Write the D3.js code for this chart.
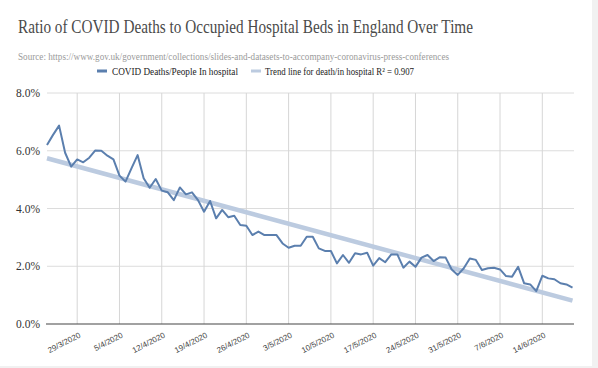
<!DOCTYPE html>
<html>
<head>
<meta charset="utf-8">
<script src="https://cdn.jsdelivr.net/npm/d3@7"></script>
<style>
  html, body { margin: 0; padding: 0; background: #fff; }
  svg { display: block; }
</style>
</head>
<body>
<svg id="chart" width="598" height="368"></svg>
<script>
// ---- data ----
const title = "Ratio of COVID Deaths to Occupied Hospital Beds in England Over Time";
const subtitle = "Source: https://www.gov.uk/government/collections/slides-and-datasets-to-accompany-coronavirus-press-conferences";
const seriesNames = ["COVID Deaths/People In hospital", "Trend line for death/in hospital R\u00B2 = 0.907"];
const startDate = "2020-03-24";
const endDate = "2020-06-19";
// daily ratio values (%)
const ratioValues = [
  6.20, 6.55, 6.87, 5.93, 5.45, 5.70, 5.60, 5.76, 6.01, 6.00,
  5.83, 5.70, 5.14, 4.93, 5.40, 5.85, 5.05, 4.72, 5.02, 4.62,
  4.56, 4.29, 4.73, 4.49, 4.56, 4.29, 3.89, 4.26, 3.66, 3.95,
  3.70, 3.75, 3.43, 3.40, 3.08, 3.20, 3.08, 3.08, 3.08, 2.79,
  2.64, 2.71, 2.71, 3.02, 3.02, 2.62, 2.53, 2.53, 2.10, 2.39,
  2.12, 2.45, 2.41, 2.47, 2.02, 2.28, 2.14, 2.41, 2.41, 1.95,
  2.16, 1.98, 2.30, 2.39, 2.18, 2.31, 2.30, 1.89, 1.70, 1.93,
  2.27, 2.22, 1.87, 1.93, 1.95, 1.89, 1.66, 1.64, 1.98, 1.41,
  1.37, 1.14, 1.67, 1.58, 1.55, 1.41, 1.37, 1.26
];
// trend line end values (%)
const trendValues = [5.74, 0.81];
const yTicks = [0, 2, 4, 6, 8];

// ---- layout ----
const svg = d3.select("#chart");
const W = 598, H = 368;
const plot = { left: 47, right: 572.5, top: 93, bottom: 324 };

svg.append("rect").attr("width", W).attr("height", H).attr("fill", "#f1f1f1");
svg.append("rect").attr("width", 592).attr("height", 366).attr("fill", "#ffffff");

const parse = d3.utcParse("%Y-%m-%d");
const d0 = parse(startDate), d1 = parse(endDate);
const dates = d3.utcDay.range(d0, d3.utcDay.offset(d1, 1));
const data = dates.map((d, i) => ({ date: d, v: ratioValues[i] }));

const x = d3.scaleUtc().domain([d0, d1]).range([plot.left, plot.right]);
const y = d3.scaleLinear().domain([0, 8]).range([plot.bottom, plot.top]);

const serif = "'Liberation Serif', 'Times New Roman', serif";

// title
svg.append("text").attr("x", 18).attr("y", 33)
  .attr("font-family", serif).attr("font-size", 18.5).attr("fill", "#4a4a4a")
  .attr("textLength", 455).attr("lengthAdjust", "spacingAndGlyphs")
  .text(title);
svg.append("text").attr("x", 18).attr("y", 60)
  .attr("font-family", serif).attr("font-size", 10.5).attr("fill", "#9a9a9a")
  .attr("textLength", 431).attr("lengthAdjust", "spacingAndGlyphs")
  .text(subtitle);

// legend
const legend = svg.append("g").attr("font-family", serif).attr("font-size", 11).attr("fill", "#222");
legend.append("rect").attr("x", 97).attr("y", 69.5).attr("width", 10).attr("height", 3).attr("fill", "#5b7fae");
legend.append("text").attr("x", 112).attr("y", 75)
  .attr("textLength", 126).attr("lengthAdjust", "spacingAndGlyphs").text(seriesNames[0]);
legend.append("rect").attr("x", 251).attr("y", 69.5).attr("width", 10).attr("height", 3).attr("fill", "#bccbe0");
legend.append("text").attr("x", 265).attr("y", 75)
  .attr("textLength", 149).attr("lengthAdjust", "spacingAndGlyphs").text(seriesNames[1]);

// horizontal grid
const gy = svg.append("g");
gy.selectAll("line").data(yTicks.filter(t => t > 0)).join("line")
  .attr("x1", plot.left).attr("x2", 574)
  .attr("y1", d => y(d)).attr("y2", d => y(d))
  .attr("stroke", "#dcdcdc").attr("stroke-width", 1);

// vertical grid
const weekTicks = d3.utcSunday.range(d0, d3.utcDay.offset(d1, 1));
svg.append("g").selectAll("line").data(weekTicks).join("line")
  .attr("x1", d => x(d)).attr("x2", d => x(d))
  .attr("y1", plot.top).attr("y2", plot.bottom)
  .attr("stroke", "#d6d6d6").attr("stroke-width", 1);

// y labels
svg.append("g").selectAll("text").data(yTicks).join("text")
  .attr("x", 40).attr("y", d => y(d)).attr("dy", "0.35em")
  .attr("text-anchor", "end")
  .attr("font-family", serif).attr("font-size", 11.5).attr("fill", "#333")
  .text(d => d3.format(".1f")(d) + "%");

// baseline
svg.append("line").attr("x1", 46).attr("x2", 574)
  .attr("y1", y(0)).attr("y2", y(0))
  .attr("stroke", "#444").attr("stroke-width", 1.2);

// x labels
const fmt = d3.utcFormat("%-d/%-m/%Y");
svg.append("g").selectAll("text").data(weekTicks).join("text")
  .attr("transform", d => `translate(${x(d) + 4},${plot.bottom + 13}) rotate(-27)`)
  .attr("text-anchor", "end")
  .attr("font-family", "'Liberation Sans', Arial, sans-serif").attr("font-size", 8).attr("fill", "#444")
  .text(d => fmt(d));

// trend line
svg.append("line")
  .attr("x1", x(d0)).attr("y1", y(trendValues[0]))
  .attr("x2", x(d1)).attr("y2", y(trendValues[1]))
  .attr("stroke", "#bccbe0").attr("stroke-width", 4.5).attr("stroke-linecap", "butt");

// data line
const line = d3.line().x(d => x(d.date)).y(d => y(d.v));
svg.append("path").datum(data)
  .attr("d", line).attr("fill", "none")
  .attr("stroke", "#5b7fae").attr("stroke-width", 2).attr("stroke-linejoin", "round");
</script>
</body>
</html>
